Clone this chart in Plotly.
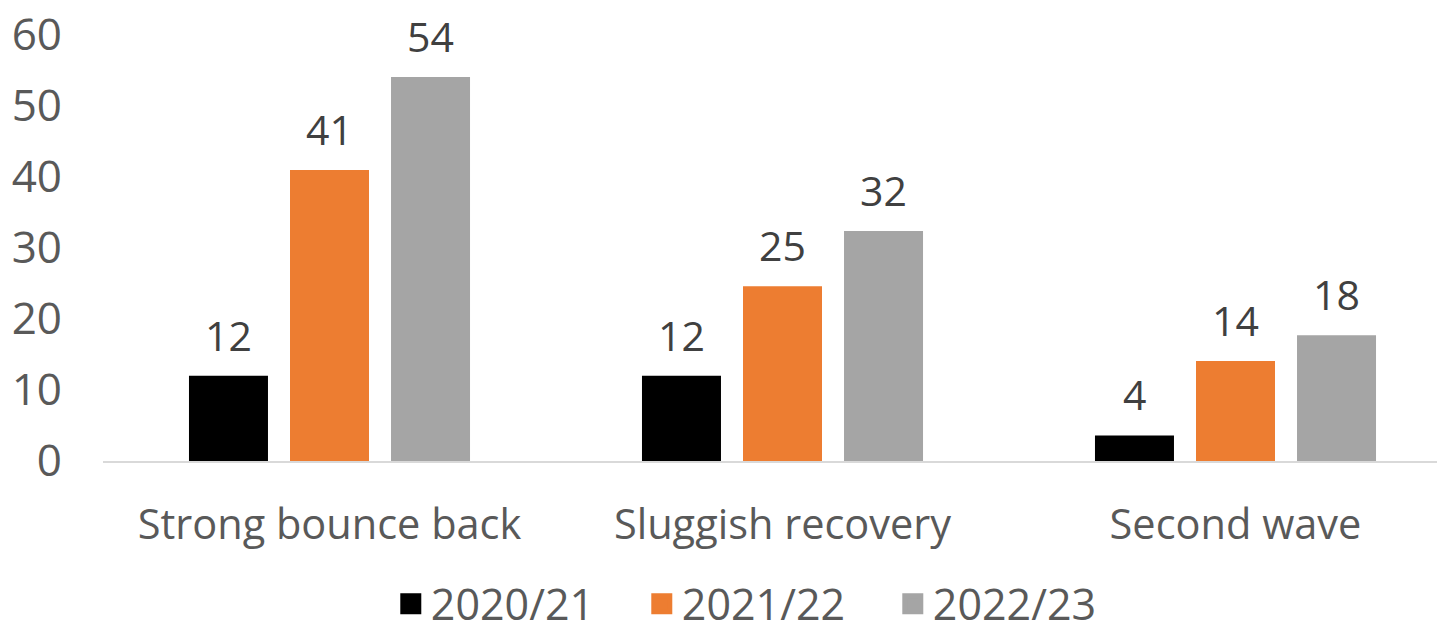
import plotly.graph_objects as go

categories = ["Strong bounce back", "Sluggish recovery", "Second wave"]
series_names = ["2020/21", "2021/22", "2022/23"]
values_2020 = [12.0, 12.0, 3.6]
values_2021 = [41.0, 24.6, 14.1]
values_2022 = [54.1, 32.4, 17.7]
colors = ["#000000", "#ED7D31", "#A5A5A5"]
y_ticks = [0, 10, 20, 30, 40, 50, 60]

series_values = [values_2020, values_2021, values_2022]

FONT = "Open Sans"
BARGAP = 0.331
GROUPGAP = 0.218
# page body has an 8px margin, so the figure is sized to fit the 1445x626 window
W, H = 1437, 618
L, T, B = 95, 27, 165
CAT_PX = 453

fig = go.Figure()
for name, vals, col in zip(series_names, series_values, colors):
    fig.add_trace(go.Bar(
        x=list(range(len(categories))), y=vals, name=name,
        legendgroup=name, showlegend=False,
        marker=dict(color=col, line=dict(width=0)),
    ))
# legend entries with larger square swatches (linked to the bar traces)
for name, col in zip(series_names, colors):
    fig.add_trace(go.Scatter(
        x=[None], y=[None], mode="markers", name=name, legendgroup=name,
        marker=dict(symbol="square", size=16, color=col, line=dict(color=col, width=5)),
        hoverinfo="skip",
    ))

# data labels above bars, positioned from the grouped-bar geometry
slot = (1 - BARGAP) / len(series_values)
for i, vals in enumerate(series_values):
    off = (i - (len(series_values) - 1) / 2) * slot
    for j, v in enumerate(vals):
        fig.add_annotation(
            x=j + off, y=v, xref="x", yref="y",
            text=f"{round(v):d}", showarrow=False,
            yanchor="bottom", yshift=11,
            font=dict(family=FONT, size=41, color="#404040"),
        )

fig.update_layout(
    width=W, height=H,
    margin=dict(l=L, r=0, t=T, b=B, autoexpand=False),
    paper_bgcolor="white", plot_bgcolor="white",
    barmode="group", bargap=BARGAP, bargroupgap=GROUPGAP,
    font=dict(family=FONT, size=40, color="#595959"),
    showlegend=True,
    legend=dict(orientation="h", x=0.495, xanchor="center", y=-0.335, yanchor="middle",
                font=dict(family=FONT, size=43, color="#595959"),
                entrywidth=206, traceorder="normal", itemsizing="trace"),
)
fig.update_xaxes(
    range=[-0.5, -0.5 + (W - L) / CAT_PX], tickmode="array",
    tickvals=list(range(len(categories))),
    ticktext=categories, showgrid=False, zeroline=False,
    showline=True, linecolor="#D9D9D9", linewidth=2, ticks="",
    ticklabelstandoff=26,
    tickfont=dict(family=FONT, size=41.5, color="#595959"),
)
fig.update_yaxes(
    range=[0, 60], tickmode="array", tickvals=y_ticks, showgrid=False,
    zeroline=False, showline=False, ticks="",
    ticklabelstandoff=40, ticklabeloverflow="allow",
    tickfont=dict(family=FONT, size=44, color="#595959"),
)

fig.write_html("out.html")
